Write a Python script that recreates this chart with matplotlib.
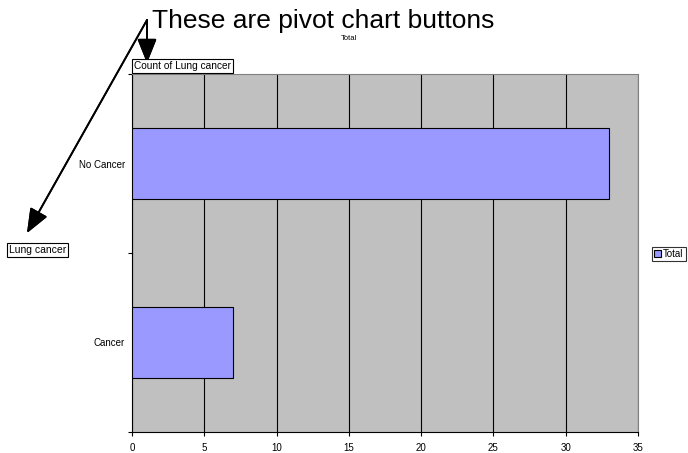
import matplotlib.pyplot as plt
from matplotlib.patches import Patch

plt.rcParams['font.family'] = ['Liberation Sans', 'DejaVu Sans']

categorias = ["Cancer", "No Cancer"]
conteos = [7, 33]
xticks = [0, 5, 10, 15, 20, 25, 30, 35]

fig = plt.figure(figsize=(6.88, 4.53), dpi=100)
ax = fig.add_axes([132 / 688, 21 / 453, 506 / 688, 358 / 453])

ax.set_facecolor("#C0C0C0")
ax.barh(range(len(categorias)), conteos, height=0.4, color="#9999FF",
        edgecolor="black", linewidth=0.8, zorder=3)

ax.set_xlim(0, 35)
ax.set_ylim(-0.5, 1.5)
ax.set_xticks(xticks)
ax.set_xticklabels([str(v) for v in xticks], fontsize=7)
ax.xaxis.grid(True, color="black", linewidth=0.8, zorder=0)
ax.set_axisbelow(True)

ax.set_yticks(range(len(categorias)))
ax.set_yticklabels(categorias, fontsize=7)
ax.set_yticks([-0.5, 0.5, 1.5], minor=True)
ax.tick_params(axis="y", which="major", length=0, pad=5)
ax.tick_params(axis="y", which="minor", length=3, width=0.8)
ax.tick_params(axis="x", length=3, width=0.8, pad=5)

for s in ["top", "right"]:
    ax.spines[s].set_color("#808080")
for s in ["left", "bottom"]:
    ax.spines[s].set_color("black")

# Titulo y botones de la tabla dinamica
fig.text(349 / 688, 1 - 38 / 453, "Total", fontsize=5.5, ha="center", va="center")
fig.text(134 / 688, 1 - 66 / 453, "Count of Lung cancer", fontsize=7.3,
         ha="left", va="center",
         bbox=dict(boxstyle="square,pad=0.15", fc="white", ec="black", lw=0.8))
fig.text(9 / 688, 1 - 250 / 453, "Lung cancer", fontsize=7.5,
         ha="left", va="center",
         bbox=dict(boxstyle="square,pad=0.15", fc="white", ec="black", lw=0.8))

leg = fig.legend(handles=[Patch(facecolor="#9999FF", edgecolor="black", lw=0.8)],
                 labels=["Total"], loc="center left",
                 bbox_to_anchor=(652 / 688, 1 - 254 / 453), fontsize=7,
                 frameon=True, fancybox=False, handlelength=0.7, handleheight=0.7,
                 handletextpad=0.2, borderpad=0.25, borderaxespad=0)
leg.get_frame().set_edgecolor("black")
leg.get_frame().set_linewidth(0.8)

# Anotacion con flechas
fig.text(152 / 688, 1 - 28 / 453, "These are pivot chart buttons", fontsize=19,
         ha="left", va="baseline")
inicio = (147 / 688, 1 - 20 / 453)
for punta in [(147 / 688, 1 - 63 / 453), (27 / 688, 1 - 233 / 453)]:
    fig.add_artist(plt.annotate("", xy=punta, xytext=inicio,
                                xycoords="figure fraction",
                                textcoords="figure fraction",
                                arrowprops=dict(arrowstyle="-|>,head_length=1.5,head_width=0.6",
                                                color="black", lw=1.3,
                                                shrinkA=0, shrinkB=0)))

plt.savefig("out.png", dpi=100)
